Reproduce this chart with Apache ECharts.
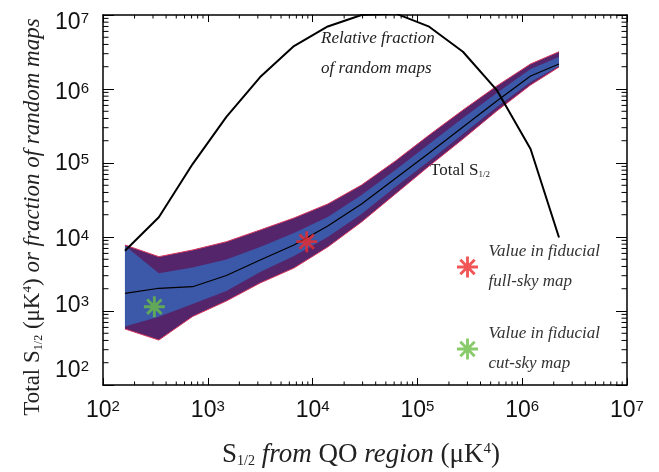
<!DOCTYPE html>
<html>
<head>
<meta charset="utf-8">
<script src="https://cdn.jsdelivr.net/npm/echarts@6/dist/echarts.min.js"></script>
<style>html,body{margin:0;padding:0;background:#fff}#c{width:659px;height:472px}</style>
</head>
<body>
<div id="c"></div>
<script>
// ---- data ----
const xVals      = [162, 341, 716, 1504, 3160, 6640, 13950, 29300, 61600, 129500, 272000, 572000, 1202000, 2245000];
const outerTop   = [7800, 5420, 6670, 8630, 12450, 18070, 27900, 50400, 106400, 238900, 520000, 1099000, 2180000, 3190000];
const innerTop   = [7600, 3230, 3870, 4965, 7330, 11330, 18620, 36950, 80400, 180700, 405500, 883000, 1862000, 2710000];
const medianVals = [1735, 2028, 2130, 3020, 4890, 7800, 14080, 27900, 61800, 136500, 306400, 688000, 1500000, 2180000];
const innerBot   = [618, 838, 1244, 1862, 3365, 5540, 10000, 20460, 47400, 106400, 246600, 571000, 1245000, 2050000];
const outerBot   = [572, 405, 843, 1365, 2390, 3810, 7330, 15950, 38100, 91000, 211000, 504000, 1132000, 1980000];
const fracVals   = [6530, 18450, 96800, 419000, 1450000, 3810000, 7000000, 10000000, 10500000, 6950000, 3190000, 968000, 154500, 9840];
const fullSkyPoint = [8790, 8650];
const cutSkyPoint  = [309, 1143];
const legendNames  = ['Value in fiducial\nfull-sky map', 'Value in fiducial\ncut-sky map'];
const decadeExps   = [2, 3, 4, 5, 6, 7];

// ---- styling ----
const PURPLE = '#55256c', BLUE = '#3c58a8', EDGE = '#d8365c';
const RED = '#ee2a2a', GREEN = '#6cbd45';
const STAR = 'path://M1 10.5H23V13.5H1Z M10.5 1H13.5V23H10.5Z M5.56 3.44L20.56 18.44L18.44 20.56L3.44 5.56Z M20.56 5.56L5.56 20.56L3.44 18.44L18.44 3.44Z';
const minorVals = [];
decadeExps.slice(0, -1).forEach(e => { for (let m = 2; m <= 9; m++) minorVals.push(m * Math.pow(10, e)); });

const pair = (xs, ys) => xs.map((x, i) => [x, ys[i]]);

function band(top, bot, color, z) {
  return {
    type: 'custom', coordinateSystem: 'cartesian2d', silent: true, z: z,
    data: [[xVals[0], top[0]]],
    renderItem: function (params, api) {
      const pts = [];
      for (let i = 0; i < xVals.length; i++) pts.push(api.coord([xVals[i], top[i]]));
      for (let i = xVals.length - 1; i >= 0; i--) pts.push(api.coord([xVals[i], bot[i]]));
      return { type: 'polygon', shape: { points: pts }, style: { fill: color } };
    }
  };
}

function minorTicks(isX) {
  return {
    type: 'custom', coordinateSystem: 'cartesian2d', silent: true, z: 10,
    data: minorVals.map(v => isX ? [v, 1000] : [1000, v]),
    renderItem: function (params, api) {
      const cs = params.coordSys;
      const p = api.coord([api.value(0), api.value(1)]);
      const st = { stroke: '#000', lineWidth: 1 };
      if (isX) {
        const b = cs.y + cs.height, t = cs.y, L = 3.5;
        return { type: 'group', children: [
          { type: 'line', shape: { x1: p[0], y1: b, x2: p[0], y2: b - L }, style: st },
          { type: 'line', shape: { x1: p[0], y1: t, x2: p[0], y2: t + L }, style: st }
        ]};
      } else {
        const l = cs.x, r = cs.x + cs.width, L = 5.5;
        return { type: 'group', children: [
          { type: 'line', shape: { x1: l, y1: p[1], x2: l + L, y2: p[1] }, style: st },
          { type: 'line', shape: { x1: r, y1: p[1], x2: r - L, y2: p[1] }, style: st }
        ]};
      }
    }
  };
}

const TICKFONT = 'Liberation Sans';
const tickRich = { b: { fontSize: 23, fontFamily: TICKFONT, color: '#111' }, s: { fontSize: 15, fontFamily: TICKFONT, color: '#111', verticalAlign: 'top' } };
// y-label vertical shift (px, + = down) per exponent, as in the original layout
const yShift = { 7: 8, 6: 4, 5: 1, 4: 3, 3: -5, 2: -14 };
const yRich = {};
decadeExps.forEach(e => {
  const s = yShift[e] || 0;
  const pb = s < 0 ? [0, 0, -2 * s, 0] : [2 * s, 0, 0, 0];
  const ps = s < 0 ? [0, 0, 0, 0] : [2 * s, 0, 0, 0];
  yRich['b' + e] = Object.assign({}, tickRich.b, { padding: pb, verticalAlign: 'top' });
  yRich['s' + e] = Object.assign({}, tickRich.s, { padding: ps });
});
const expOf = v => Math.round(Math.log10(v));

const SERIF = 'Liberation Serif';
const titleRich = (fs) => ({
  n: { fontSize: fs, fontFamily: SERIF, fill: '#222' },
  i: { fontSize: fs, fontFamily: SERIF, fontStyle: 'italic', fill: '#222' },
  sub: { fontSize: Math.round(fs * 0.5), fontFamily: SERIF, fill: '#222', verticalAlign: 'bottom' },
  sup: { fontSize: Math.round(fs * 0.55), fontFamily: SERIF, fill: '#222', verticalAlign: 'top' }
});

const axisCommon = {
  type: 'log', logBase: 10, min: 100, max: 1e7,
  splitLine: { show: false },
  axisLine: { show: true, lineStyle: { color: '#000', width: 1.5 } }
};

const option = {
  animation: false,
  backgroundColor: '#fff',
  grid: { left: 103, right: 32, top: 15, bottom: 87, show: false },
  xAxis: [
    Object.assign({}, axisCommon, {
      position: 'bottom',
      axisTick: { inside: true, length: 7, lineStyle: { color: '#000' } },
      axisLabel: { margin: 14, formatter: v => '{b|10}{s|' + expOf(v) + '}', rich: tickRich }
    }),
    Object.assign({}, axisCommon, {
      position: 'top',
      axisTick: { inside: true, length: 7, lineStyle: { color: '#000' } },
      axisLabel: { show: false }
    })
  ],
  yAxis: [
    Object.assign({}, axisCommon, {
      position: 'left',
      axisTick: { inside: true, length: 11, lineStyle: { color: '#000' } },
      axisLabel: { margin: 14, formatter: v => { const e = expOf(v); return '{b' + e + '|10}{s' + e + '|' + e + '}'; }, rich: yRich }
    }),
    Object.assign({}, axisCommon, {
      position: 'right',
      axisTick: { inside: true, length: 11, lineStyle: { color: '#000' } },
      axisLabel: { show: false }
    })
  ],
  legend: {
    orient: 'vertical', left: 452, top: 232, itemWidth: 32, itemHeight: 21, itemGap: 22,
    selectedMode: false,
    data: [{ name: legendNames[0], icon: STAR }, { name: legendNames[1], icon: STAR }],
    textStyle: { fontFamily: SERIF, fontStyle: 'italic', fontSize: 17, lineHeight: 30, color: '#333' }
  },
  graphic: [
    { type: 'text', x: 361, y: 455, style: {
        text: '{n|S}{sub|1/2}{i| from }{n|QO}{i| region }{n|(μK}{sup|4}{n|)}',
        rich: titleRich(27), align: 'center', verticalAlign: 'middle' } },
    { type: 'text', x: 33, y: 217, rotation: Math.PI / 2, style: {
        text: '{n|Total S}{sub|1/2}{n| (μK}{sup|4}{n|) }{i|or fraction of random maps}',
        rich: titleRich(23), align: 'center', verticalAlign: 'middle' } },
    { type: 'text', left: 321, top: 30, style: { text: 'Relative fraction', font: 'italic 17px "Liberation Serif"', fill: '#222' } },
    { type: 'text', left: 321, top: 60, style: { text: 'of random maps', font: 'italic 17px "Liberation Serif"', fill: '#222' } },
    { type: 'text', left: 430, top: 162, style: {
        text: '{n|Total S}{sub|1/2}',
        rich: { n: { fontSize: 17, fontFamily: SERIF, fill: '#222' }, sub: { fontSize: 9, fontFamily: SERIF, fill: '#222', verticalAlign: 'bottom' } } } }
  ],
  series: [
    band(outerTop, outerBot, PURPLE, 1),
    band(innerTop, innerBot, BLUE, 2),
    { type: 'line', name: 'edgeTop', data: pair(xVals, outerTop), symbol: 'none', z: 3, silent: true,
      lineStyle: { color: EDGE, width: 1 } },
    { type: 'line', name: 'edgeBot', data: pair(xVals, outerBot), symbol: 'none', z: 3, silent: true,
      lineStyle: { color: EDGE, width: 1 } },
    { type: 'line', name: 'median', data: pair(xVals, medianVals), symbol: 'none', z: 4, silent: true,
      lineStyle: { color: '#000', width: 1.2 } },
    { type: 'line', name: 'fraction', data: pair(xVals, fracVals), symbol: 'none', z: 5, silent: true, clip: true,
      lineStyle: { color: '#000', width: 2 } },
    { type: 'scatter', name: legendNames[0], data: [fullSkyPoint], symbol: STAR, symbolSize: 21, z: 6,
      itemStyle: { color: RED } },
    { type: 'scatter', name: legendNames[1], data: [cutSkyPoint], symbol: STAR, symbolSize: 21, z: 6,
      itemStyle: { color: GREEN } },
    minorTicks(true),
    minorTicks(false)
  ]
};
const chart = echarts.init(document.getElementById('c'), null, { renderer: 'canvas' });
chart.setOption(option);
</script>
</body>
</html>
